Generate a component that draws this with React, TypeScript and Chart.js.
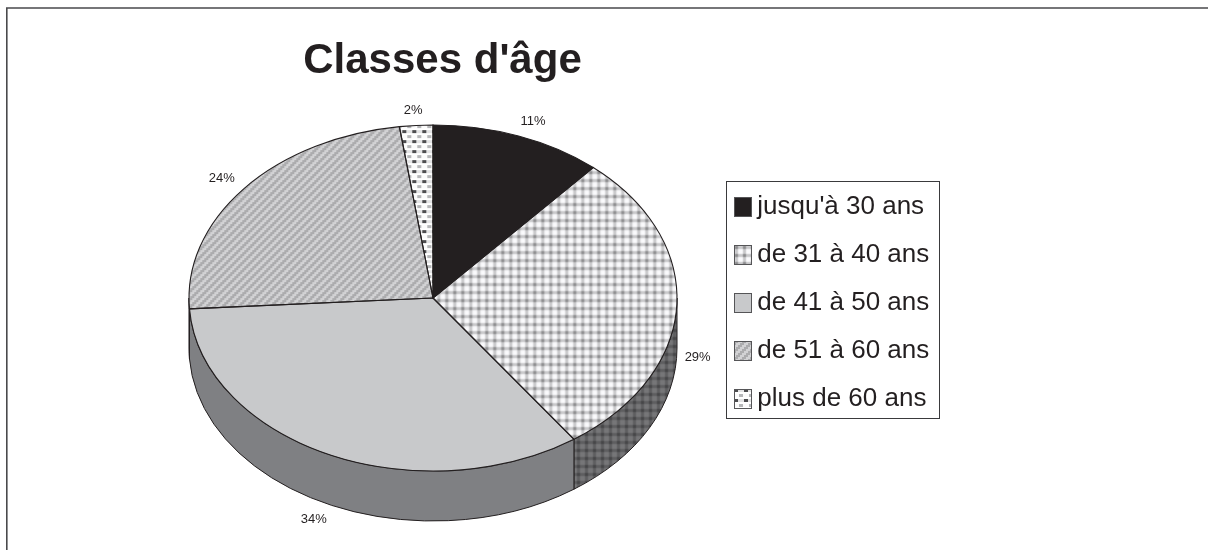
import React, { useEffect, useRef } from "react";
import { Chart, registerables } from "chart.js";

Chart.register(...registerables);

const categories = ["jusqu'à 30 ans", "de 31 à 40 ans", "de 41 à 50 ans", "de 51 à 60 ans", "plus de 60 ans"];
const shares = [11.4, 28.8, 33.8, 23.8, 2.2];
const chartTitle = "Classes d'âge";

const INK = "#231f20";
const FONT = "'Liberation Sans', Arial, sans-serif";
const PIE = { cx: 433, cy: 298, rx: 244, ry: 173, depth: 50 };
const LABEL_NUDGE_X = [4, -9, -1, 1, -1];
const LABEL_NUDGE_Y = [-1, 0, 2, -1, 0];
const SOFT_BAND = [0.2, 0.85, 1, 0.85, 0.2, 0, 0, 0];

type Painter = (x: number, y: number) => string;

function tile(w: number, h: number, paint: Painter) {
  const c = document.createElement("canvas");
  c.width = w;
  c.height = h;
  const g = c.getContext("2d")!;
  for (let y = 0; y < h; y++) {
    for (let x = 0; x < w; x++) {
      g.fillStyle = paint(x, y);
      g.fillRect(x, y, 1, 1);
    }
  }
  return c;
}

const grey = (v: number) => {
  const n = Math.round(v);
  return `rgb(${n},${n},${n + 2})`;
};

const plaid = (none: number, one: number, both: number): Painter => (x, y) => {
  const a = SOFT_BAND[x % 8];
  const b = SOFT_BAND[y % 8];
  const sum = a + b;
  const v = sum <= 1 ? none + (one - none) * sum : one + (both - one) * (sum - 1);
  return grey(v);
};
const stripes = (dark: number, light: number): Painter => (x, y) => {
  const k = (Math.floor(x / 2) + Math.floor(y / 2)) % 4;
  return grey(k < 2 ? dark : light);
};
const dashes: Painter = (x, y) => {
  const row = y % 10;
  if (row < 3) return x < 4 ? "#4d4d4f" : "#e4e4e5";
  if (row >= 5 && row < 8) return x >= 5 && x < 9 ? "#b5b6b8" : "#fbfbfb";
  return "#ffffff";
};

function makeTiles() {
  return {
    top: [
      tile(1, 1, () => INK),
      tile(8, 8, plaid(250, 200, 140)),
      tile(1, 1, () => "#c8c9cb"),
      tile(8, 8, stripes(172, 210)),
      tile(10, 10, dashes),
    ],
    wall: [
      tile(1, 1, () => "#111111"),
      tile(8, 8, plaid(118, 94, 70)),
      tile(1, 1, () => "#7f8083"),
      tile(8, 8, stripes(96, 128)),
      tile(10, 10, () => "#777777"),
    ],
  };
}

function swatch(source: HTMLCanvasElement) {
  const c = document.createElement("canvas");
  c.width = 18;
  c.height = 20;
  const g = c.getContext("2d")!;
  g.fillStyle = g.createPattern(source, "repeat")!;
  g.fillRect(0, 0, 18, 20);
  g.strokeStyle = "#555557";
  g.lineWidth = 1;
  g.strokeRect(0.5, 0.5, 17, 19);
  return c;
}

export default function App() {
  const ref = useRef<HTMLCanvasElement | null>(null);

  useEffect(() => {
    const canvas = ref.current!;
    const ctx = canvas.getContext("2d")!;
    const tiles = makeTiles();
    const topPatterns = tiles.top.map((t) => ctx.createPattern(t, "repeat")!);
    const wallPatterns = tiles.wall.map((t) => ctx.createPattern(t, "repeat")!);
    const swatches = tiles.top.map(swatch);

    const pie3d = {
      id: "pie3d",
      afterLayout(chart: any) {
        const legend = chart.legend;
        legend.left = 719.75;
        legend.right = 939;
        legend.top = 172;
        legend.bottom = 440;
        const title = chart.titleBlock;
        title.left = 0;
        title.right = 885;
        title.top = 61 - 25.2;
        title.bottom = 61 + 25.2;
      },
      beforeDraw(chart: any) {
        const c = chart.ctx;
        c.save();
        c.strokeStyle = "#4a4a4c";
        c.lineWidth = 1.6;
        c.beginPath();
        c.moveTo(6.8, 550);
        c.lineTo(6.8, 8);
        c.lineTo(1208, 8);
        c.stroke();
        c.lineWidth = 1;
        c.strokeStyle = "#3a3a3c";
        c.strokeRect(726.5, 181.5, 213, 237);
        c.restore();
      },
      beforeDatasetsDraw(chart: any) {
        const c = chart.ctx;
        const arcs = chart.getDatasetMeta(0).data;
        const { cx, cy, rx, ry, depth } = PIE;
        c.save();
        c.lineWidth = 1;
        c.strokeStyle = INK;
        arcs.forEach((arc: any, i: number) => {
          const s = Math.max(arc.startAngle, 0);
          const e = Math.min(arc.endAngle, Math.PI);
          if (s >= e) return;
          c.beginPath();
          c.ellipse(cx, cy, rx, ry, 0, s, e);
          c.ellipse(cx, cy + depth, rx, ry, 0, e, s, true);
          c.closePath();
          c.fillStyle = wallPatterns[i];
          c.fill();
          c.stroke();
        });
        c.restore();

        const first = arcs[0];
        const r = first.outerRadius;
        const inverse = new DOMMatrix().scale(r / rx, r / ry);
        topPatterns.forEach((p) => p.setTransform(inverse));
        c.save();
        c.translate(cx, cy);
        c.scale(rx / r, ry / r);
        c.translate(-first.x, -first.y);
      },
      afterDatasetsDraw(chart: any) {
        const c = chart.ctx;
        c.restore();
        const arcs = chart.getDatasetMeta(0).data;
        const { cx, cy, rx, ry, depth } = PIE;
        c.save();
        c.lineWidth = 1.1;
        c.strokeStyle = INK;
        arcs.forEach((arc: any) => {
          c.beginPath();
          c.moveTo(cx, cy);
          c.ellipse(cx, cy, rx, ry, 0, arc.startAngle, arc.endAngle);
          c.closePath();
          c.stroke();
        });
        c.fillStyle = INK;
        c.font = `13px ${FONT}`;
        c.textAlign = "center";
        c.textBaseline = "middle";
        arcs.forEach((arc: any, i: number) => {
          const mid = (arc.startAngle + arc.endAngle) / 2;
          const x = cx + Math.cos(mid) * (rx + 30) + LABEL_NUDGE_X[i];
          const y = cy + Math.sin(mid) * (ry + 15) + (Math.sin(mid) > 0 ? depth : 0) + LABEL_NUDGE_Y[i];
          c.fillText(`${Math.round(shares[i])}%`, x, y);
        });
        c.restore();
      },
    };

    const chart = new Chart(canvas, {
      type: "pie",
      data: {
        labels: categories,
        datasets: [
          {
            data: shares,
            backgroundColor: topPatterns,
            borderWidth: 0,
            clip: false,
          } as any,
        ],
      },
      options: {
        responsive: false,
        animation: false,
        events: [],
        layout: { padding: { left: 142, right: 269, top: 0, bottom: 0 } },
        plugins: {
          tooltip: { enabled: false },
          title: {
            display: true,
            text: chartTitle,
            color: INK,
            padding: 0,
            font: { family: FONT, size: 42, weight: "bold", lineHeight: 1.2 },
          },
          legend: {
            display: true,
            position: "right",
            align: "start",
            labels: {
              color: INK,
              font: { family: FONT, size: 26 },
              padding: 22,
              usePointStyle: true,
              pointStyleWidth: 2.5,
              generateLabels: () =>
                categories.map((text, i) => ({
                  text,
                  index: i,
                  hidden: false,
                  fontColor: INK,
                  pointStyle: swatches[i],
                  fillStyle: INK,
                  strokeStyle: INK,
                  lineWidth: 0,
                })),
            },
          },
        },
      },
      plugins: [pie3d],
    } as any);

    return () => chart.destroy();
  }, []);

  return (
    <div style={{ position: "absolute", left: 0, top: 0, width: 1208, height: 550, background: "#fff" }}>
      <canvas ref={ref} width={1208} height={550} style={{ display: "block" }} />
    </div>
  );
}
